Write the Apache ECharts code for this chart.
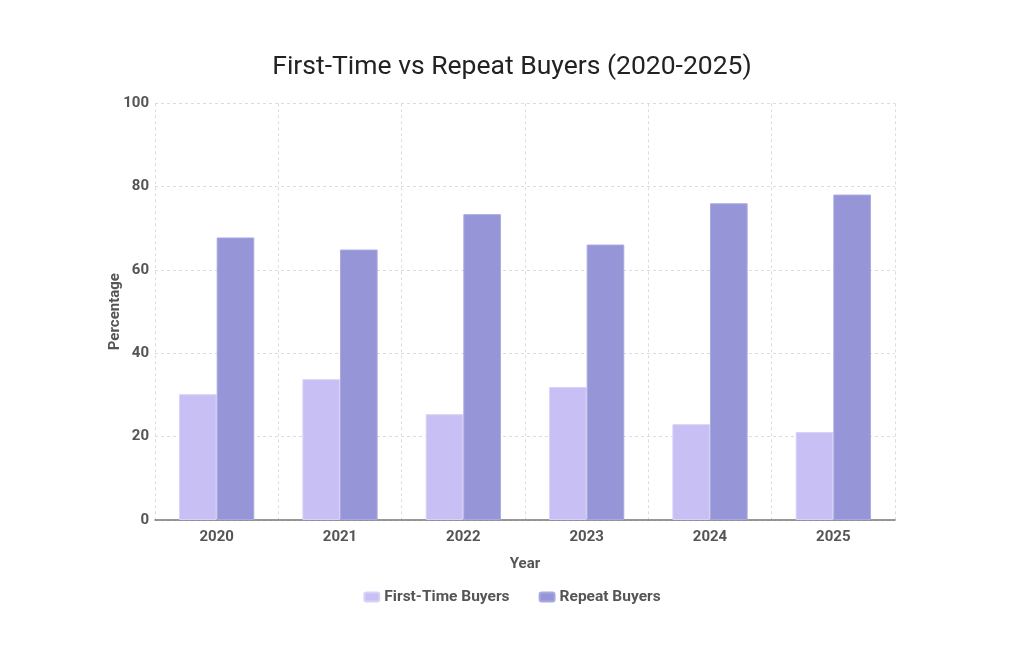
<!DOCTYPE html>
<html>
<head>
<meta charset="utf-8">
<script src="https://cdn.jsdelivr.net/npm/echarts@6/dist/echarts.min.js"></script>
<style>html,body{margin:0;padding:0;background:#fff}#c{width:1024px;height:652px}</style>
</head>
<body>
<div id="c"></div>
<script>
const years = ['2020','2021','2022','2023','2024','2025'];
const firstTime = [30.2, 33.8, 25.4, 31.9, 23.0, 21.1];
const repeat = [67.8, 64.9, 73.4, 66.1, 76.0, 78.1];
const yTicks = [0, 20, 40, 60, 80, 100];

const chart = echarts.init(document.getElementById('c'));
chart.setOption({
  animation: false,
  backgroundColor: '#ffffff',
  textStyle: { fontFamily: 'Roboto' },
  title: {
    text: 'First-Time vs Repeat Buyers (2020-2025)',
    left: 'center', top: 49,
    textStyle: { fontFamily: 'Roboto', fontSize: 26.5, fontWeight: 'normal', color: '#222222' }
  },
  legend: {
    bottom: 42, left: 'center',
    itemWidth: 15, itemHeight: 9, itemGap: 29,
    textStyle: { fontFamily: 'Roboto', fontSize: 15.5, fontWeight: 'bold', color: '#555555' },
    data: ['First-Time Buyers', 'Repeat Buyers']
  },
  grid: { left: 155, right: 129, top: 103.3, bottom: 132, containLabel: false },
  xAxis: {
    type: 'category', data: years,
    name: 'Year', nameLocation: 'middle', nameGap: 37,
    nameTextStyle: { fontFamily: 'Roboto', fontSize: 15, fontWeight: 'bold', color: '#555555' },
    axisLine: { show: true, lineStyle: { color: '#777777', width: 1.5 } },
    axisTick: { show: false },
    axisLabel: { fontFamily: 'Roboto', fontSize: 15, fontWeight: 'bold', color: '#555555', margin: 10 },
    splitLine: { show: true, lineStyle: { color: '#dddddd', type: [3, 3], width: 1 } }
  },
  yAxis: {
    type: 'value', min: yTicks[0], max: yTicks[yTicks.length - 1], interval: 20,
    name: 'Percentage', nameLocation: 'middle', nameGap: 32, nameRotate: 90,
    nameMoveOverlap: false,
    nameTextStyle: { fontFamily: 'Roboto', fontSize: 15, fontWeight: 'bold', color: '#555555' },
    axisLine: { show: false },
    axisTick: { show: false },
    axisLabel: { fontFamily: 'Roboto', fontSize: 15, fontWeight: 'bold', color: '#555555', margin: 6 },
    splitLine: { show: true, lineStyle: { color: '#dddddd', type: [3, 3], width: 1 } }
  },
  series: [
    {
      name: 'First-Time Buyers', type: 'bar', data: firstTime,
      barWidth: '30.5%', barGap: '0%',
      itemStyle: { color: '#c8c0f5', borderColor: '#d8d2f8', borderWidth: 1 }
    },
    {
      name: 'Repeat Buyers', type: 'bar', data: repeat,
      barWidth: '30.5%',
      itemStyle: { color: '#9595d7', borderColor: '#a9a9e2', borderWidth: 1 }
    }
  ]
});
</script>
</body>
</html>
